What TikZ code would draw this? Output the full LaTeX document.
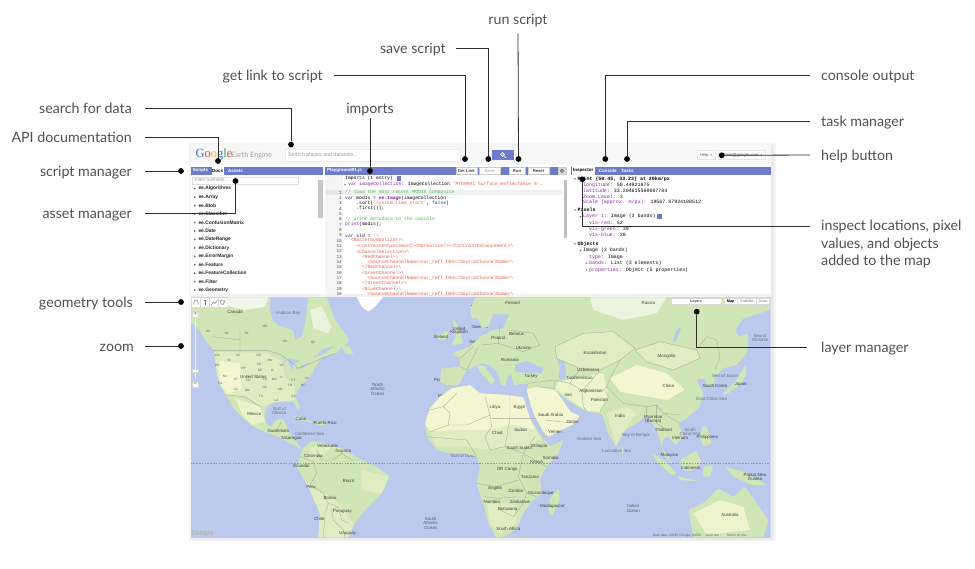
\documentclass[tikz,border=0pt]{standalone}
\usepackage{fontspec}
\setmainfont{Lato}
\newfontfamily\uifont{Liberation Sans}
\newfontfamily\codefont{Liberation Mono}
\newfontfamily\logofont{Liberation Serif}
\newfontfamily\symfont{DejaVu Sans}
\definecolor{bar}{HTML}{6E7BCB}
\definecolor{ocean}{HTML}{BBCAEC}
\definecolor{land}{HTML}{D0E6B6}
\definecolor{landpale}{HTML}{E0EDC2}
\definecolor{sand}{HTML}{F3F6D0}
\definecolor{border}{HTML}{A8A89A}
\definecolor{ink}{HTML}{2E2E2E}
\definecolor{lab}{HTML}{505050}
\definecolor{cgreen}{HTML}{45BE45}
\definecolor{cred}{HTML}{E4604E}
\definecolor{cpurple}{HTML}{8A20A8}
\definecolor{cblue}{HTML}{2A2A80}
\tikzset{
  callout/.style={font=\fontsize{14.2}{17.5}\selectfont,text=lab,inner sep=0pt,text height=12.5pt,text depth=2pt},
  conn/.style={draw=ink,line width=0.8pt},
  pin/.style={circle,fill=black,inner sep=0pt,minimum size=5.8pt},
  tab/.style={font=\uifont\bfseries\fontsize{4.5}{5}\selectfont,text=white,inner sep=0pt},
  btn/.style={draw=black!20,fill=white,font=\uifont\bfseries\fontsize{4.2}{5}\selectfont,text=black!75,inner sep=0pt},
  item/.style={font=\uifont\bfseries\fontsize{4.9}{5}\selectfont,text=black!85,inner sep=0pt,anchor=west},
  codetext/.style={font=\codefont\fontsize{4.67}{5}\selectfont,inner sep=0pt,anchor=west},
  linenum/.style={font=\codefont\fontsize{4.4}{5}\selectfont,text=black!70,inner sep=0pt,anchor=east},
  instext/.style={font=\codefont\fontsize{4.95}{5}\selectfont,inner sep=0pt,anchor=west},
  maplabel/.style={font=\uifont\fontsize{4.4}{5}\selectfont,text=black!75,inner sep=0pt},
  seaname/.style={font=\uifont\fontsize{4.4}{5}\selectfont,text=black!45!ocean,inner sep=0pt,align=center},
  stlabel/.style={font=\uifont\fontsize{3.2}{4}\selectfont,text=black!60,inner sep=0pt},
  landshape/.style={fill=land,draw=none,rounded corners=1.2pt},
  bline/.style={draw=border,line width=0.35pt},
  zm/.style={x=0.33333pt,y=-0.33333pt}
}
\newcommand{\cln}[3]{\node[linenum] (num#1) at (342,{192.7+5.33*(#1-1)}) {#1};
  \node[codetext] (cl#1) at ({345+2.8*#2},{192.7+5.33*(#1-1)}) {#3};}
\newcommand{\insl}[4]{\node[instext] (#1) at (#2,#3) {#4};}
\newcommand{\ky}[1]{\textcolor{cpurple}{#1}}
\newcommand{\downtri}[2]{\fill[black!60] (#1-1,#2-0.7) -- (#1+1,#2-0.7) -- (#1,#2+0.9) -- cycle;}
\newcommand{\righttri}[2]{\fill[black!60] (#1-0.7,#2-1) -- (#1+0.9,#2) -- (#1-0.7,#2+1) -- cycle;}
\begin{document}
\begin{tikzpicture}[x=1pt,y=-1pt]
\useasboundingbox (0,0) rectangle (975,568);
\fill[white] (0,0) rectangle (975,568);
% window and shadow
\fill[black!4] (189,143) rectangle (776,541);
\fill[black!8] (191,145) rectangle (774,540);
\fill[white] (191,145) rectangle (771,294);
\fill[black!3] (191,145) rectangle (771,165);
\fill[black!5] (191,294) rectangle (771,297);
% header
\node[inner sep=0pt,anchor=west,font=\logofont\fontsize{12.5}{13}\selectfont] (logo) at (195.5,154.5)
  {\textcolor[HTML]{3C6FD8}{G}\textcolor[HTML]{D84A3A}{o}\textcolor[HTML]{E8B830}{o}\textcolor[HTML]{3C6FD8}{g}\textcolor[HTML]{3BA555}{l}\textcolor[HTML]{D84A3A}{e}};
\node[inner sep=0pt,anchor=west,text=black!38,font=\fontsize{7.3}{9}\selectfont] (ee) at (231,155) {Earth Engine};
\node[draw=black!8,fill=white,minimum width=175pt,minimum height=12pt,inner sep=0pt,anchor=west] (searchbox) at (284.5,155) {};
\node[inner sep=0pt,anchor=west,text=black!40,font=\uifont\fontsize{5.3}{6}\selectfont] (searchtext) at (288,155) {Search places and datasets...};
\node[fill=bar,minimum width=22pt,minimum height=10pt,inner sep=0pt] (searchbtn) at (503,155) {};
\draw[white,line width=0.7pt] (502.5,154.5) circle (1.9pt) (503.8,155.8) -- (505.8,157.8);
\node[draw=black!10,fill=black!2,minimum width=18pt,minimum height=9pt,inner sep=0pt,font=\uifont\fontsize{4.2}{5}\selectfont,text=black!60] (helpbtn) at (706,155) {Help \ {\symfont\fontsize{3}{4}\selectfont ▾}};
\node[draw=black!10,fill=black!2,minimum width=47pt,minimum height=9pt,inner sep=0pt,font=\uifont\fontsize{4.2}{5}\selectfont,text=black!70] (account) at (741.5,155) {admin@google.com \ {\symfont\fontsize{3}{4}\selectfont ▾}};
% panel bars
\fill[bar] (191,166.7) rectangle (322.5,174.7);
\fill[bar] (325,166.7) rectangle (567,175);
\fill[bar] (571,166.7) rectangle (770.5,174.7);
\fill[white] (211.5,167) rectangle (224,175);
\fill[white] (571.5,167) rectangle (595,175);
\node[tab] (tscripts) at (200.5,170.8) {Scripts};
\node[tab,text=black] (tdocs) at (217.7,170.8) {Docs};
\node[tab] (tassets) at (235.5,170.8) {Assets};
\node[tab,anchor=west] (tfile) at (327,170.8) {Playground01.js};
\node[tab,text=black] (tinsp) at (583.3,170.8) {Inspector};
\node[tab] (tcons) at (607.7,170.8) {Console};
\node[tab] (ttasks) at (627.5,170.8) {Tasks};
% buttons
\node[btn,minimum width=21pt,minimum height=6.6pt] (bget) at (466.2,170.8) {Get Link};
\node[btn,minimum width=21pt,minimum height=6.6pt,text=black!30] (bsave) at (489.5,170.8) {Save};
\node[btn,minimum width=16pt,minimum height=6.6pt] (brun) at (517,170.8) {Run};
\node[btn,minimum width=21pt,minimum height=6.6pt] (breset) at (538.5,170.8) {Reset};
\node[btn,fill=black!15,minimum width=8pt,minimum height=6.6pt] (bgear) at (562,170.8) {};
\draw[black!60,line width=0.8pt] (562,170.8) circle (1.6pt);
% left panel
\node[draw=black!12,fill=white,minimum width=106pt,minimum height=7pt,inner sep=0pt,anchor=west] (filterbox) at (192,180.3) {};
\node[inner sep=0pt,anchor=west,text=black!40,font=\uifont\fontsize{4.6}{5}\selectfont] (filtertext) at (195,180.3) {Filter methods...};
\fill[black!22] (318,179.5) rectangle (323,218);
\foreach \t [count=\i from 0] in {ee.Algorithms,ee.Array,ee.Blob,ee.Classifier,ee.ConfusionMatrix,ee.Date,ee.DateRange,ee.Dictionary,ee.ErrorMargin,ee.Feature,ee.FeatureCollection,ee.Filter,ee.Geometry}{
  \node[item] (li\i) at (198.3,{188.7+8.45*\i}) {\t};
  \fill[black!60] (194.2,{188.7+8.45*\i-1}) -- (195.8,{188.7+8.45*\i}) -- (194.2,{188.7+8.45*\i+1}) -- cycle;
}
% code panel
\fill[black!4] (325,175) rectangle (343,294);
\fill[black!9] (325,190) rectangle (343,195.4);
\fill[black!6] (343,190) rectangle (563,195.4);
\fill[black!25] (563.5,180) rectangle (567,238);
\node[codetext] (imp0) at (345,178.4) {Imports (1 entry)};
\node[fill=bar,minimum size=4.4pt,inner sep=0pt] (impbadge) at (399,178.4) {};
\righttri{345}{184.5}
\node[codetext] (imp1) at (348,184.5) {\ky{var imageCollection:} ImageCollection \textcolor{cred}{'MYD09A1 Surface Reflectance 8-…}};
\cln{1}{0}{\textcolor{cgreen}{// load the most recent MODIS composite}}
\cln{2}{0}{\textcolor{cblue}{var} modis = \textbf{\textcolor{cpurple}{ee.Image}}(imageCollection}
\cln{3}{4}{.sort(\textcolor{cred}{'system:time\_start'}, \textcolor{cblue}{false})}
\cln{4}{4}{.first());}
\cln{5}{0}{}
\cln{6}{0}{\textcolor{cgreen}{// print metadata to the console}}
\cln{7}{0}{\textcolor{cpurple}{print}(modis);}
\cln{8}{0}{}
\cln{9}{0}{\textcolor{cblue}{var} sld = \textcolor{cred}{'\textbackslash}}
\cln{10}{2}{\textcolor{cred}{<RasterSymbolizer>\textbackslash}}
\cln{11}{4}{\textcolor{cred}{<ContrastEnhancement><Normalize/></ContrastEnhancement>\textbackslash}}
\cln{12}{4}{\textcolor{cred}{<ChannelSelection>\textbackslash}}
\cln{13}{6}{\textcolor{cred}{<RedChannel>\textbackslash}}
\cln{14}{8}{\textcolor{cred}{<SourceChannelName>sur\_refl\_b01</SourceChannelName>\textbackslash}}
\cln{15}{6}{\textcolor{cred}{</RedChannel>\textbackslash}}
\cln{16}{6}{\textcolor{cred}{<GreenChannel>\textbackslash}}
\cln{17}{8}{\textcolor{cred}{<SourceChannelName>sur\_refl\_b04</SourceChannelName>\textbackslash}}
\cln{18}{6}{\textcolor{cred}{</GreenChannel>\textbackslash}}
\cln{19}{6}{\textcolor{cred}{<BlueChannel>\textbackslash}}
\cln{20}{8}{\textcolor{cred}{<SourceChannelName>sur\_refl\_b03</SourceChannelName>\textbackslash}}
% inspector
\insl{i1}{577.5}{179}{\textbf{Point (50.45, 33.23) at 20km/px}}
\insl{i2}{583}{185.7}{\ky{longitude:} 50.44921875}
\insl{i3}{583}{191}{\ky{latitude:} 33.204615560007784}
\insl{i4}{583}{196.7}{\ky{Zoom Level:} 3}
\insl{i5}{583}{202.3}{\ky{Scale (approx. m/px):} 19567.87924100512}
\insl{i6}{577.5}{210}{\textbf{Pixels}}
\insl{i7}{583}{216.7}{\ky{Layer 1:} Image (3 bands)}
\node[fill=bar,minimum size=5pt,inner sep=0pt] (ibadge) at (659,216.7) {};
\insl{i8}{589}{223}{\ky{vis-red:} 52}
\insl{i9}{589}{229}{\ky{vis-green:} 39}
\insl{i10}{589}{235}{\ky{vis-blue:} 20}
\insl{i11}{577.5}{244}{\textbf{Objects}}
\insl{i12}{583}{250.7}{Image (3 bands)}
\insl{i13}{589}{257}{\ky{type:} Image}
\insl{i14}{589}{263.3}{\ky{bands:} List (3 elements)}
\insl{i15}{589}{270}{\ky{properties:} Object (5 properties)}
\downtri{575}{179}\downtri{575}{210}\downtri{580.5}{216.7}\downtri{575}{244}\downtri{580.5}{250.7}
\righttri{586.5}{263.3}\righttri{586.5}{270}
% map
\begin{scope}
\clip (191,297) rectangle (770.7,537.5);
\fill[ocean] (191,297) rectangle (770.7,537.5);
\begin{scope}[shift={(185,290)},zm]
 % north america
 \fill[landshape] (10,22) -- (425,22) -- (450,90) -- (490,145) -- (490,158) -- (470,170) -- (455,190) -- (415,200) -- (395,225) -- (375,260) -- (345,290) -- (330,320) -- (345,350) -- (340,362) -- (325,335) -- (300,335) -- (270,335) -- (245,350) -- (238,380) -- (245,405) -- (262,408) -- (270,392) -- (290,385) -- (300,395) -- (310,420) -- (320,440) -- (345,470) -- (352,480) -- (325,465) -- (290,445) -- (250,430) -- (205,410) -- (175,385) -- (150,360) -- (125,320) -- (105,285) -- (95,250) -- (90,210) -- (85,180) -- (60,150) -- (40,115) -- (10,90) -- cycle;
 \fill[landpale] (90,185) -- (250,190) -- (290,215) -- (300,260) -- (330,290) -- (325,330) -- (250,340) -- (230,350) -- (180,320) -- (125,315) -- (105,285) -- (95,250) -- cycle;
 \fill[sand] (100,215) -- (165,220) -- (170,300) -- (125,310) -- (105,280) -- cycle;
 \fill[sand!60!landpale] (150,325) -- (225,350) -- (240,395) -- (205,405) -- (175,380) -- cycle;
 \fill[white!70!land] (130,22) -- (250,22) -- (240,50) -- (180,60) -- (120,45) -- cycle;
 \fill[ocean,rounded corners=1pt] (255,22) -- (370,22) -- (365,60) -- (360,100) -- (350,140) -- (330,150) -- (325,120) -- (290,110) -- (265,95) -- (255,60) -- cycle;
 \fill[white!50!land] (375,60) -- (410,50) -- (440,110) -- (430,130) -- (385,115) -- cycle;
 \fill[ocean] (285,195) -- (300,205) -- (300,230) -- (295,205) -- cycle;
 \fill[ocean] (307,205) -- (345,212) -- (325,222) -- (322,240) -- (312,222) -- cycle;
 \fill[ocean] (330,238) -- (375,215) -- (360,232) -- cycle;
 \fill[ocean] (380,205) -- (420,175) -- (445,170) -- (415,192) -- cycle;
 \fill[landshape] (470,165) -- (495,170) -- (505,195) -- (480,190) -- cycle;
 \fill[white,rounded corners=1pt] (515,20) -- (595,20) -- (570,50) -- (550,65) -- (530,50) -- cycle;
 \fill[landshape] (320,380) -- (350,380) -- (385,398) -- (350,392) -- cycle;
 \fill[landshape] (390,395) -- (420,395) -- (420,405) -- (395,405) -- cycle;
 % south america
 \fill[landshape] (350,480) -- (375,455) -- (400,455) -- (470,475) -- (530,510) -- (575,530) -- (615,560) -- (590,610) -- (540,660) -- (510,700) -- (490,742) -- (400,742) -- (405,670) -- (370,590) -- (335,530) -- (345,500) -- cycle;
 \fill[landpale] (370,590) -- (420,610) -- (460,640) -- (505,700) -- (490,742) -- (400,742) -- (405,670) -- cycle;
 \fill[landpale] (375,470) -- (440,470) -- (420,490) -- (370,510) -- cycle;
 \fill[landpale] (530,540) -- (610,560) -- (590,610) -- (530,600) -- cycle;
 % borders
 \draw[bline] (85,182) -- (250,182) -- (290,195) -- (340,235) -- (400,210) -- (450,190);
 \draw[bline] (125,315) -- (180,320) -- (230,352);
 \draw[bline] (165,120) -- (165,182) (85,140) -- (165,150);
 \draw[bline] (275,420) -- (290,395) (305,450) -- (322,440);
 \draw[bline] (345,500) -- (385,515) -- (395,550) -- (375,585) -- (415,610) -- (430,640) -- (460,650) -- (470,690) -- (490,700);
 \draw[bline] (395,480) -- (410,510) -- (445,510) -- (470,490) -- (500,510) -- (525,510);
 \draw[bline] (430,640) -- (420,670) -- (415,742);
 \draw[bline] (460,650) -- (440,660) -- (445,690) -- (475,720) -- (480,742);
 % UK etc
 \fill[landshape] (800,85) -- (815,100) -- (835,160) -- (800,165) -- (815,130) -- cycle;
 \fill[landshape] (775,125) -- (790,125) -- (785,145) -- (770,145) -- cycle;
 \fill[landshape] (755,135) -- (790,130) -- (780,150) -- (760,150) -- cycle;
 \foreach \t/\x/\y [count=\i] in {Canada/150/65,United States/205/260,Mexico/208/372,Cuba/348/388,Puerto Rico/420/398,Guatemala/280/423,Nicaragua/320/445,Venezuela/428/468,Colombia/385/497,Ecuador/350/528,Guyana/475/483,Brazil/490/572,Bolivia/435/623,Peru/378/592,Paraguay/472/664,Chile/403/687,Uruguay/488/730,Iceland/768/141,United/822/117,Kingdom/822/128,France/840/202,Spain/805/247,Portugal/772/272,Morocco/785/319,Algeria/840/344,Mauritania/757/404,Mali/813/411,Niger/880/413,Burkina Faso/815/440,Nigeria/873/462,Germany/880/157,Norway/880/52,Sweden/885/112}{
   \node[maplabel] (na\i) at (\x,\y) {\t};}
 \foreach \t/\x/\y [count=\i] in {BC/70/125,AB/125/130,SK/185/130,MB/240/108,ON/300/155,QC/385/158,WA/97/197,MT/160/197,ND/222/197,MN/255/210,OR/97/225,ID/133/210,WY/175/235,SD/222/222,WI/290/225,NV/120/260,UT/153/268,CO/190/270,NE/225/240,IA/262/240,IL/290/262,CA/105/280,AZ/153/298,NM/187/300,KS/240/268,MO/268/268,KY/325/270,VA/365/265,OK/240/292,TN/315/285,NC/355/285,TX/228/318,AR/285/298,LA/275/330,GA/325/318}{
   \node[stlabel] (st\i) at (\x,\y) {\t};}
 \node[seaname] (sa) at (310,70) {Hudson Bay};
 \node[seaname] (sb) at (283,362) {Gulf of\\[-1pt]Mexico};
 \node[seaname] (sc) at (373,433) {Caribbean Sea};
 \node[seaname,text=black!55!ocean] (sd) at (578,297) {North\\[-0.5pt]Atlantic\\[-0.5pt]Ocean};
 \node[seaname,text=black!55!ocean] (se) at (737,700) {South\\[-0.5pt]Atlantic\\[-0.5pt]Ocean};
 \node[seaname] (sf) at (840,497) {Gulf of Guinea};
 \node[inner sep=0pt,text=white!70!black,font=\uifont\bfseries\fontsize{7}{8}\selectfont] (gmark) at (50,730) {Google};
\end{scope}
\begin{scope}[shift={(480,290)},zm]
 % eurasia
 \fill[landshape] (100,22) -- (870,22) -- (870,60) -- (790,85) -- (765,120) -- (775,140) -- (805,130) -- (800,190) -- (770,225) -- (730,235) -- (705,260) -- (700,290) -- (680,285) -- (675,265) -- (650,270) -- (670,310) -- (660,350) -- (620,385) -- (595,400) -- (610,440) -- (585,465) -- (565,440) -- (555,440) -- (545,470) -- (580,525) -- (555,500) -- (530,420) -- (510,390) -- (495,380) -- (470,400) -- (435,420) -- (408,470) -- (385,430) -- (365,370) -- (320,365) -- (285,345) -- (255,325) -- (225,300) -- (255,340) -- (270,365) -- (298,378) -- (285,400) -- (205,440) -- (190,425) -- (160,370) -- (148,330) -- (140,300) -- (145,280) -- (100,285) -- (95,255) -- (85,255) -- (75,290) -- (60,280) -- (55,250) -- (30,225) -- (5,220) -- (-10,225) -- (-40,240) -- (-65,285) -- (-105,285) -- (-120,275) -- (-115,235) -- (-60,230) -- (-60,205) -- (-85,190) -- (-30,170) -- (0,140) -- (40,120) -- (70,115) -- (85,80) -- cycle;
 \fill[landshape] (-10,225) -- (10,225) -- (45,270) -- (35,285) -- (0,245) -- cycle;
 \fill[landshape] (-30,60) -- (-15,22) -- (100,22) -- (85,75) -- (40,70) -- (25,110) -- (5,115) -- (-5,85) -- (-25,85) -- cycle;
 \fill[ocean] (105,225) -- (140,212) -- (190,235) -- (185,250) -- (130,248) -- (105,245) -- cycle;
 \fill[ocean] (230,205) -- (250,205) -- (258,240) -- (255,270) -- (235,265) -- (240,235) -- cycle;
 \fill[ocean] (590,120) -- (605,110) -- (585,160) -- (578,150) -- cycle;
 \fill[white!55!land] (330,22) -- (560,22) -- (530,70) -- (430,90) -- (340,60) -- cycle;
 \fill[landpale] (225,170) -- (310,130) -- (400,125) -- (465,175) -- (420,210) -- (360,240) -- (300,235) -- (230,205) -- cycle;
 \fill[landpale] (465,180) -- (540,155) -- (650,180) -- (660,205) -- (580,240) -- (500,215) -- cycle;
 \fill[sand] (390,265) -- (470,225) -- (560,250) -- (615,300) -- (560,330) -- (420,305) -- cycle;
 \fill[sand!70!landpale] (235,275) -- (370,250) -- (385,320) -- (360,365) -- (320,362) -- (285,340) -- (225,295) -- cycle;
 \fill[sand] (225,300) -- (255,340) -- (270,365) -- (298,378) -- (285,400) -- (205,440) -- (190,425) -- (160,370) -- (148,330) -- (140,300) -- (170,290) -- cycle;
 \fill[landpale] (380,370) -- (440,350) -- (470,370) -- (435,420) -- (408,465) -- cycle;
 % africa
 \fill[landshape] (-165,400) -- (-150,355) -- (-120,320) -- (-85,295) -- (-30,285) -- (0,310) -- (80,315) -- (130,322) -- (150,385) -- (185,440) -- (210,470) -- (250,450) -- (235,490) -- (200,530) -- (180,565) -- (185,610) -- (150,640) -- (130,670) -- (110,715) -- (75,740) -- (50,745) -- (25,700) -- (10,640) -- (-10,580) -- (0,530) -- (-10,500) -- (-45,490) -- (-95,490) -- (-130,480) -- (-160,440) -- cycle;
 \fill[sand] (-165,400) -- (-150,355) -- (-120,320) -- (-85,295) -- (-30,285) -- (0,310) -- (80,315) -- (130,322) -- (150,385) -- (165,420) -- (100,405) -- (30,420) -- (-60,420) -- (-150,425) -- cycle;
 \fill[landpale] (-150,425) -- (-60,420) -- (30,420) -- (100,405) -- (165,420) -- (185,445) -- (140,470) -- (30,480) -- (-45,470) -- (-130,470) -- cycle;
 \fill[landpale] (20,640) -- (100,640) -- (110,700) -- (60,730) -- (30,705) -- cycle;
 \fill[landshape] (235,595) -- (240,630) -- (215,680) -- (205,665) -- (210,625) -- cycle;
 \fill[landshape] (425,465) -- (435,485) -- (425,492) -- cycle;
 \fill[landshape] (800,250) -- (785,280) -- (745,310) -- (725,315) -- (770,270) -- (795,225) -- cycle;
 \fill[landshape] (795,130) -- (805,160) -- (800,190) -- cycle;
 \fill[landshape] (515,488) -- (550,510) -- (590,550) -- (575,555) -- (530,515) -- cycle;
 \fill[landshape] (590,558) -- (660,575) -- (600,570) -- cycle;
 \fill[landshape] (600,510) -- (650,480) -- (665,520) -- (630,545) -- (605,535) -- cycle;
 \fill[landshape] (670,530) -- (700,525) -- (690,560) -- (670,560) -- cycle;
 \fill[landshape] (735,530) -- (790,545) -- (860,585) -- (815,585) -- (760,560) -- cycle;
 \fill[landshape] (665,410) -- (680,410) -- (695,460) -- (670,470) -- (660,440) -- cycle;
 \fill[landshape] (625,660) -- (670,640) -- (715,595) -- (760,620) -- (795,590) -- (865,690) -- (850,742) -- (640,742) -- cycle;
 \fill[sand!70!landpale] (640,670) -- (720,630) -- (790,650) -- (810,720) -- (680,735) -- cycle;
 % borders
 \draw[bline] (225,170) -- (310,130) -- (400,125) -- (465,175) -- (420,210) -- (360,240) -- (300,235) -- (230,205) -- cycle;
 \draw[bline] (465,180) -- (540,155) -- (650,180) -- (660,205) -- (580,240) -- (500,215) -- cycle;
 \draw[bline] (650,180) -- (680,140) -- (710,150) -- (720,200) -- (705,240);
 \draw[bline] (420,210) -- (390,265) -- (380,290) -- (430,340) -- (500,350) -- (530,345) -- (550,370) -- (600,375);
 \draw[bline] (300,235) -- (270,280) -- (225,270) -- (222,295);
 \draw[bline] (270,280) -- (305,300) -- (310,350) -- (320,362);
 \draw[bline] (360,240) -- (310,300) -- (370,300) -- (380,290);
 \draw[bline] (360,365) -- (385,320) -- (375,300);
 \draw[bline] (500,350) -- (500,380) (530,345) -- (530,400) -- (560,420) (550,370) -- (600,400);
 \draw[bline] (60,100) -- (55,160) -- (130,185) -- (180,165) -- (160,130) -- (85,120);
 \draw[bline] (-60,205) -- (-20,170) (-40,240) -- (-5,170) (55,160) -- (5,165) (-60,230) -- (-40,240) (-105,235) -- (-105,285);
 \draw[bline] (145,280) -- (222,270) (170,290) -- (225,295) (195,390) -- (285,400);
 \draw[bline] (-150,360) -- (-110,350) -- (-90,370) -- (-95,405) (-150,425) -- (-95,405) -- (-40,405) (-110,350) -- (-70,310) (-40,405) -- (30,375) -- (15,320);
 \draw[bline] (30,375) -- (35,410) -- (15,440) -- (30,480) (90,315) -- (90,385) -- (165,385) (35,385) -- (90,385);
 \draw[bline] (90,385) -- (75,470) -- (30,480) (75,470) -- (130,490) -- (165,440) (130,490) -- (180,520) -- (200,530);
 \draw[bline] (130,490) -- (115,560) -- (140,610) -- (170,620) (-10,580) -- (50,590) -- (115,570);
 \draw[bline] (10,620) -- (60,625) -- (60,660) -- (100,680) -- (130,640) -- (140,610) (60,625) -- (110,620);
 \draw[bline] (-160,440) -- (-40,450) -- (-10,500);
 \foreach \t/\x/\y [count=\i] in {Finland/98/40,Russia/505/38,Poland/55/143,Belarus/110/133,Ukraine/130/175,Romania/90/210,Kazakhstan/345/188,Mongolia/560/200,Turkey/153/260,Uzbekistan/325/240,Turkmenistan/298/265,Afghanistan/333/303,Iran/265/316,Pakistan/358/330,China/565/287,South Korea/705/288,Japan/782/282,India/420/378,Myanmar/520/383,(Burma)/520/393,Thailand/550/420,Vietnam/600/443,Philippines/682/443,Malaysia/568/497,Indonesia/632/533,Papua New/825/556,Guinea/825/568,Australia/750/676,Libya/45/352,Egypt/118/352,Saudi Arabia/212/374,Oman/278/395,Yemen/225/425,Chad/52/430,Sudan/122/420,South Sudan/118/475,Ethiopia/178/468,Somalia/212/503,Kenya/170/518,DR Congo/82/538,Tanzania/150/560,Angola/45/596,Zambia/107/602,Mozambique/183/610,Namibia/35/637,Zimbabwe/120/636,Botswana/83/658,Madagascar/217/650,South Africa/85/716}{
   \node[maplabel] (ea\i) at (\x,\y) {\t};}
 \node[seaname,text=black!55!ocean] (s1) at (460,655) {Indian\\[-0.5pt]Ocean};
 \node[seaname] (s2) at (328,447) {Arabian Sea};
 \node[seaname] (s3) at (468,437) {Bay of Bengal};
 \node[seaname] (s4) at (630,425) {South\\[-1pt]China Sea};
 \node[seaname] (s5) at (735,260) {Sea of Japan};
 \node[seaname] (s6) at (695,328) {East China Sea};
 \node[seaname] (s7) at (410,482) {Laccadive Sea};
 \node[seaname] (s8) at (840,145) {Sea of\\[-1pt]Okhotsk};
 \draw[draw=cpurple!35!black!45,dashed,line width=0.4pt,dash pattern=on 1.6pt off 1.2pt] (-885,520) -- (870,520);
\end{scope}
\end{scope}
\node[inner sep=0pt,anchor=west,text=black!60,font=\uifont\fontsize{3.4}{4}\selectfont] (attr) at (653,536) {Map data ©2015 Google, INEGI \quad 2000 km \quad\quad Terms of Use};
% map controls
\fill[white] (191.5,298) rectangle (227,307);
\foreach \xx in {200.5,209.3,218}{\draw[black!15,line width=.3pt] (\xx,298) -- (\xx,307);}
\draw[black!55,line width=.45pt] (193.5,304.5) -- (194.5,300.5) -- (196,300) -- (197.5,300.5) -- (198.5,304.5);
\draw[black!55,line width=.45pt] (205,300) -- (205,305) (203.8,300.5) -- (206.2,300.5);
\draw[black!55,line width=.45pt] (211,305) -- (213.5,302) -- (215,303.5) -- (217.5,300);
\draw[black!55,line width=.45pt] (220,300.5) -- (225,301) -- (223,304.5) -- (221,304) -- cycle;
\draw[white!70!ocean,line width=1pt] (195.3,318) -- (195.3,379);
\node[draw=black!15,fill=white,minimum size=5.6pt,inner sep=0pt,font=\uifont\fontsize{5}{5}\selectfont,text=black!70] (zin) at (195.3,314.5) {+};
\node[draw=black!15,fill=white,minimum width=5.6pt,minimum height=3pt,inner sep=0pt] (zthumb) at (195.3,370.5) {};
\node[draw=black!15,fill=white,minimum size=5.6pt,inner sep=0pt,font=\uifont\fontsize{5}{5}\selectfont,text=black!70] (zout) at (195.3,384.5) {–};
\node[draw=black!15,fill=white,minimum width=50pt,minimum height=5.5pt,inner sep=0pt,font=\uifont\bfseries\fontsize{3.6}{4}\selectfont,text=black!70] (layers) at (696,301.3) {Layers};
\node[draw=black!15,fill=white,minimum width=13.5pt,minimum height=5.5pt,inner sep=0pt,font=\uifont\bfseries\fontsize{3.8}{4}\selectfont] (mmap) at (730.7,301.3) {Map};
\node[draw=black!15,fill=white,minimum width=19pt,minimum height=5.5pt,inner sep=0pt,font=\uifont\fontsize{3.8}{4}\selectfont,text=black!50] (msat) at (747,301.3) {Satellite};
\node[draw=black!15,fill=white,minimum width=13pt,minimum height=5.5pt,inner sep=0pt,font=\uifont\fontsize{3.8}{4}\selectfont,text=black!50] (mdraw) at (763,301.3) {Draw};
% callout labels
\node[callout,anchor=east] (lsearch) at (132,108) {search for data};
\node[callout,anchor=east] (lapi) at (132,137) {API documentation};
\node[callout,anchor=east] (lscript) at (132,171) {script manager};
\node[callout,anchor=east] (lasset) at (132,213) {asset manager};
\node[callout,anchor=east] (lgeom) at (133,302) {geometry tools};
\node[callout,anchor=east] (lzoom) at (134,346) {zoom};
\node[callout] (lrun) at (518,19) {run script};
\node[callout,anchor=east] (lsave) at (446,48) {save script};
\node[callout,anchor=east] (llink) at (323,75) {get link to script};
\node[callout] (limports) at (370,108) {imports};
\node[callout,anchor=west] (lconsole) at (821,75) {console output};
\node[callout,anchor=west] (ltask) at (821,121) {task manager};
\node[callout,anchor=west] (lhelp) at (821,155) {help button};
\node[callout,anchor=west] (llayer) at (821,347) {layer manager};
\node[font=\fontsize{14.2}{17.5}\selectfont,text=lab,inner sep=0pt,align=left,anchor=north west] (linspect) at (821,220) {inspect locations, pixel\\values, and objects\\added to the map};
\coordinate (cinspect) at (810,226);
% pins
\node[pin] (psearch) at (291,144.5) {};
\node[pin] (papi) at (218,161) {};
\node[pin] (pscript) at (181,171) {};
\node[pin] (passet) at (235.5,181) {};
\node[pin] (pgeom) at (181,302) {};
\node[pin] (pzoom) at (181,346) {};
\node[pin] (plink) at (465,159) {};
\node[pin] (psave) at (488.3,159) {};
\node[pin] (prun) at (518.5,159) {};
\node[pin] (pimports) at (370,171) {};
\node[pin] (pconsole) at (605.3,159) {};
\node[pin] (ptask) at (627,159) {};
\node[pin] (phelp) at (721.7,155.3) {};
\node[pin] (pinspect) at (582.3,179.3) {};
\node[pin] (player) at (696.7,311.7) {};
% connectors
\draw[conn,shorten <=13pt] (lsearch.east) -| (psearch);
\draw[conn,shorten <=13pt] (lapi.east) -| (papi);
\draw[conn,shorten <=13pt] (lscript.east) -- (pscript);
\draw[conn,shorten <=13pt] (lasset.east) -| (passet);
\draw[conn,shorten <=12pt] (lgeom.east) -- (pgeom);
\draw[conn,shorten <=11pt] (lzoom.east) -- (pzoom);
\draw[conn,shorten <=7pt] (lrun.south) -- (prun);
\draw[conn,shorten <=10pt] (lsave.east) -| (psave);
\draw[conn,shorten <=11pt] (llink.east) -| (plink);
\draw[conn,shorten <=3pt] (limports.south) -- (pimports);
\draw[conn,shorten <=11pt] (lconsole.west) -| (pconsole);
\draw[conn,shorten <=11pt] (ltask.west) -| (ptask);
\draw[conn,shorten <=11pt] (lhelp.west) -- (phelp);
\draw[conn] (cinspect) -| (pinspect);
\draw[conn,shorten <=14pt] (llayer.west) -| (player);
\end{tikzpicture}
\end{document}
